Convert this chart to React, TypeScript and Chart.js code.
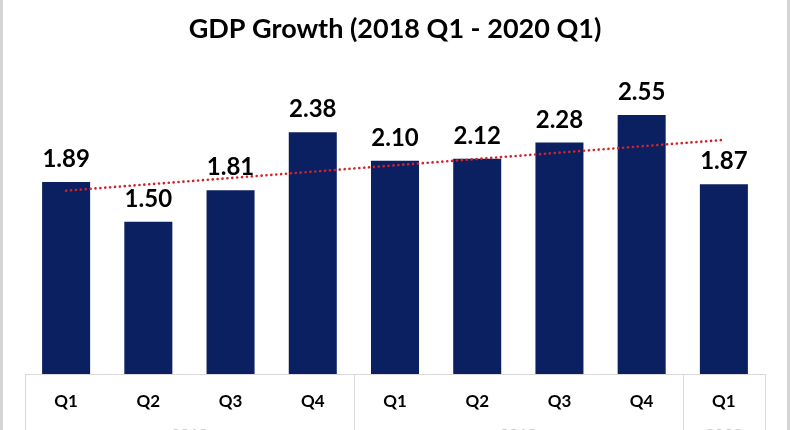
import React, { useEffect, useRef } from "react";
import { Chart, registerables } from "chart.js";

Chart.register(...registerables);

const categories = ["Q1", "Q2", "Q3", "Q4", "Q1", "Q2", "Q3", "Q4", "Q1"];
const years = ["2018", "2019", "2020"];
const yearSpans = [4, 4, 1];
const gdpValues = [1.89, 1.5, 1.81, 2.38, 2.1, 2.12, 2.28, 2.55, 1.87];
const titleText = "GDP Growth (2018 Q1 - 2020 Q1)";

// Linear (least-squares) trendline of the data, as Excel draws it
function linearTrend(values: number[]): number[] {
  const n = values.length;
  const mx = (n - 1) / 2;
  const my = values.reduce((a, b) => a + b, 0) / n;
  let sxy = 0;
  let sxx = 0;
  values.forEach((v, i) => {
    sxy += (i - mx) * (v - my);
    sxx += (i - mx) * (i - mx);
  });
  const slope = sxy / sxx;
  return values.map((_, i) => my + slope * (i - mx));
}

const FONT = "Lato, 'Noto Sans', sans-serif";
const GRID = "#d9d9d9";

const decorPlugin = {
  id: "decor",
  beforeDraw(chart: any) {
    const { ctx } = chart;
    const H = chart.height;
    const W = chart.width;
    ctx.save();
    ctx.fillStyle = "#ffffff";
    ctx.fillRect(0, 0, W, H);
    ctx.fillStyle = "#d4d4d4";
    ctx.fillRect(0, 0, 3, H);
    ctx.fillRect(W - 3, 0, 3, H);
    ctx.restore();
  },
  afterDraw(chart: any) {
    const { ctx, chartArea, scales } = chart;
    const x = scales.x;
    const H = chart.height;
    const n = categories.length;
    const step = (chartArea.right - chartArea.left) / n;
    ctx.save();
    ctx.strokeStyle = GRID;
    ctx.lineWidth = 1;
    ctx.beginPath();
    ctx.moveTo(chartArea.left, chartArea.bottom + 0.5);
    ctx.lineTo(chartArea.right, chartArea.bottom + 0.5);
    let idx = 0;
    const bounds = [0];
    yearSpans.forEach((s) => {
      idx += s;
      bounds.push(idx);
    });
    bounds.forEach((b) => {
      const px = Math.round(x.getPixelForValue(b) - step / 2) + 0.5;
      ctx.moveTo(px, chartArea.bottom);
      ctx.lineTo(px, H);
    });
    ctx.stroke();
    ctx.fillStyle = "#c8c8c8";
    ctx.font = `bold 16px ${FONT}`;
    ctx.textAlign = "center";
    ctx.textBaseline = "top";
    let start = 0;
    years.forEach((y, i) => {
      const end = start + yearSpans[i];
      const cx = (x.getPixelForValue(start) + x.getPixelForValue(end - 1)) / 2;
      ctx.fillText(y, cx, chartArea.bottom + 53);
      start = end;
    });
    ctx.restore();
  },
  afterDatasetsDraw(chart: any) {
    const { ctx } = chart;
    const meta = chart.getDatasetMeta(1);
    ctx.save();
    ctx.fillStyle = "#000000";
    ctx.font = `bold 24px ${FONT}`;
    ctx.textAlign = "center";
    ctx.textBaseline = "alphabetic";
    meta.data.forEach((el: any, i: number) => {
      ctx.fillText(gdpValues[i].toFixed(2), el.x, el.y - 15);
    });
    ctx.restore();
  },
};

export default function App() {
  const ref = useRef<HTMLCanvasElement | null>(null);
  useEffect(() => {
    document.body.style.margin = "0";
    if (!ref.current) return;
    const chart = new Chart(ref.current, {
      type: "bar",
      data: {
        labels: categories,
        datasets: [
          {
            type: "line",
            label: "Trend",
            data: linearTrend(gdpValues),
            borderColor: "#d2232a",
            borderWidth: 2.6,
            borderDash: [0.1, 4.8],
            borderCapStyle: "round",
            pointRadius: 0,
            fill: false,
            order: 0,
          } as any,
          {
            type: "bar",
            label: "GDP Growth",
            data: gdpValues,
            backgroundColor: "#0b2060",
            categoryPercentage: 1,
            barPercentage: 0.584,
            order: 1,
          },
        ],
      },
      options: {
        animation: false,
        responsive: true,
        maintainAspectRatio: false,
        layout: { padding: { left: 25, right: 25, top: 0, bottom: 0 } },
        plugins: {
          legend: { display: false },
          tooltip: { enabled: false },
          title: {
            display: true,
            text: titleText,
            color: "#000000",
            font: { family: FONT, size: 27, weight: "bold", lineHeight: 1.2 },
            padding: { top: 13, bottom: 24 },
          },
        },
        scales: {
          x: {
            grid: { display: false, drawTicks: false },
            border: { display: false },
            ticks: {
              color: "#000000",
              font: { family: FONT, size: 17, weight: "bold" },
              padding: 17,
              maxRotation: 0,
              autoSkip: false,
            },
            afterFit(scale: any) {
              scale.height = 56;
            },
          },
          y: {
            display: false,
            min: 0,
            max: 3,
          },
        },
      },
      plugins: [decorPlugin],
    });
    return () => chart.destroy();
  }, []);
  return (
    <div style={{ position: "absolute", left: 0, top: 0, width: 790, height: 430 }}>
      <canvas ref={ref} />
    </div>
  );
}
